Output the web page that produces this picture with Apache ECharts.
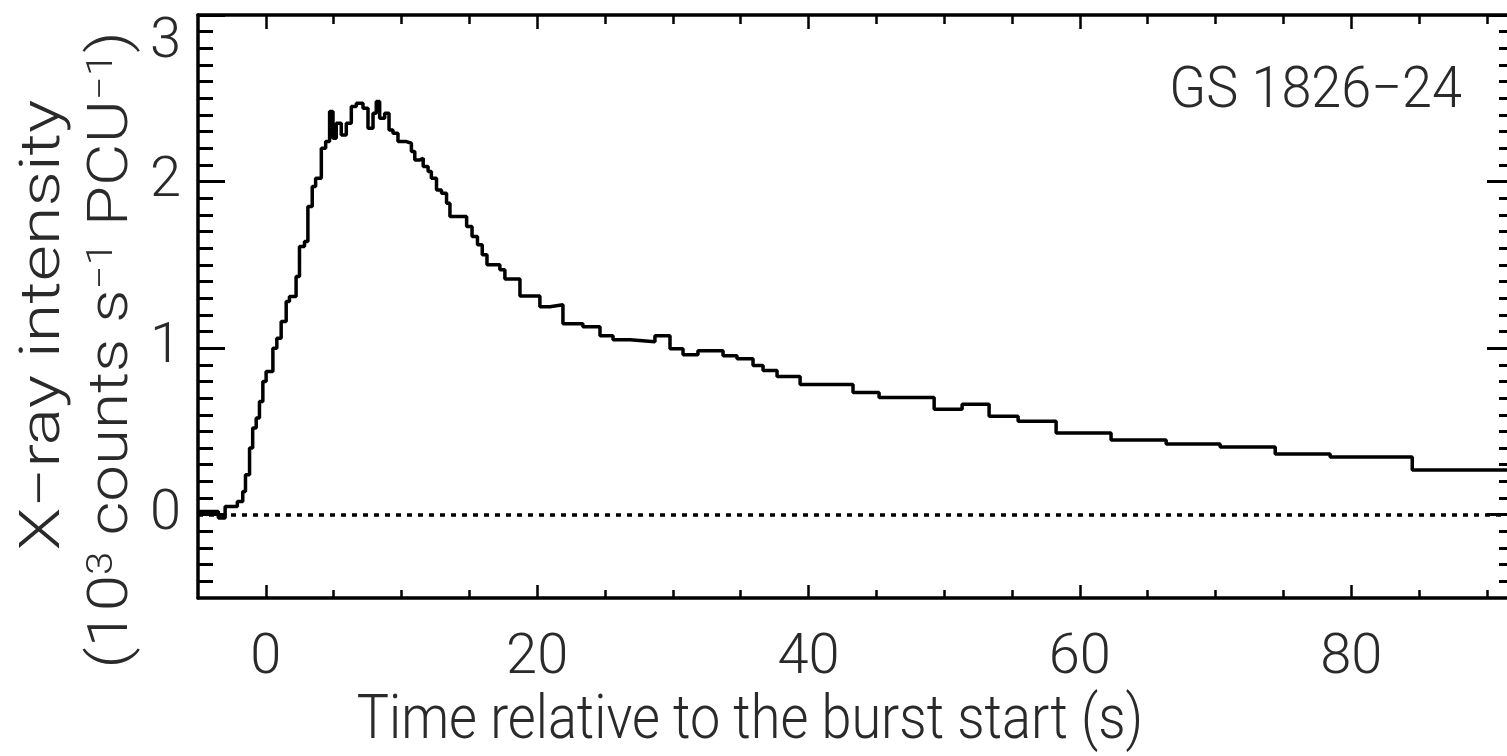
<!DOCTYPE html>
<html><head><meta charset="utf-8">
<script src="https://cdn.jsdelivr.net/npm/echarts@6/dist/echarts.min.js"></script>
<style>html,body{margin:0;padding:0;background:#fff}#c{width:1507px;height:756px}</style>
</head><body><div id="c"></div>
<script>
// Left edge of each time bin (s) and the intensity in that bin (10^3 counts/s/PCU)
const timeEdges = [-5, -3.5, -3.0, -2.1, -1.7, -1.5, -1.2, -0.97, -0.71, -0.47, -0.22, 0.02, 0.52, 0.81, 1.13, 1.5, 1.74, 2.23, 2.48, 2.85,
  3.1, 3.42, 3.67, 4.09, 4.41, 4.7, 4.95, 5.19, 5.56, 5.93, 6.3, 6.67, 7.16, 7.53, 7.9, 8.14, 8.39, 8.76, 9.08, 9.37,
  9.74, 10.36, 10.73, 10.98, 11.35, 11.6, 11.96, 12.2, 12.58, 12.95, 13.32, 13.57, 14.8, 15.2, 15.6, 15.95, 16.3, 17.25, 17.62, 18.73,
  20.2, 20.94, 21.9, 23.37, 24.63, 25.59, 26.84, 28.68, 29.79, 30.75, 31.85, 33.7, 34.73, 35.91, 36.65, 37.68, 39.38, 43.28, 45.2, 49.26,
  51.32, 53.31, 55.45, 58.25, 62.3, 66.36, 70.34, 74.4, 78.45, 84.5];
const intensity = [0.02, -0.02, 0.05, 0.08, 0.14, 0.24, 0.40, 0.52, 0.58, 0.68, 0.80, 0.86, 1.00, 1.06, 1.16, 1.28, 1.31, 1.43, 1.61, 1.64,
  1.85, 1.97, 2.02, 2.20, 2.24, 2.42, 2.26, 2.35, 2.28, 2.35, 2.45, 2.47, 2.44, 2.32, 2.41, 2.48, 2.38, 2.41, 2.31, 2.29,
  2.24, 2.23, 2.18, 2.13, 2.14, 2.09, 2.06, 2.02, 1.95, 1.93, 1.87, 1.79, 1.73, 1.67, 1.62, 1.56, 1.50, 1.47, 1.415, 1.313,
  1.248, 1.26, 1.146, 1.128, 1.075, 1.051, 1.039, 1.075, 0.997, 0.961, 0.985, 0.955, 0.937, 0.896, 0.866, 0.830, 0.782, 0.734, 0.704, 0.633,
  0.663, 0.591, 0.561, 0.490, 0.448, 0.424, 0.406, 0.364, 0.346, 0.269];
const timeEnd = 92;

const xRange = [-5, 92];
const yRange = [-0.5, 3];
const xTickLabels = [0, 20, 40, 60, 80];
const xMinorTicks = [5, 10, 15, 25, 30, 35, 45, 50, 55, 65, 70, 75, 85, 90];
const yTickLabels = [0, 1, 2, 3];
const yMinorTicks = [];
for (let i = -4; i <= 29; i++) { if (i % 10 !== 0) yMinorTicks.push(i / 10); }

const sourceName = 'GS 1826\u221224';
const xTitle = 'Time relative to the burst start (s)';
const yTitle1 = 'X\u2212ray intensity';
const yTitle2 = '(10{sup|3} counts s{sup|\u22121} PCU{sup|\u22121})';

const FONT = 'Roboto, "Liberation Sans", Arial, sans-serif';
const TXT = '#2a2a2a';
const FW = 300;

const seriesData = timeEdges.map((t, i) => [t, intensity[i]]);
seriesData.push([timeEnd, intensity[intensity.length - 1]]);

function xAx(position, ticks, len, mainAxis) {
  return {
    type: 'value', min: xRange[0], max: xRange[1], position: position,
    axisLine: { show: mainAxis, onZero: false, lineStyle: { color: '#000', width: 3.5 } },
    axisTick: { show: true, inside: true, length: len, customValues: ticks, lineStyle: { color: '#000', width: 2.5 } },
    axisLabel: (mainAxis && position === 'bottom') ? { show: true, customValues: xTickLabels, margin: 33, fontSize: 56, fontWeight: FW, fontFamily: FONT, color: TXT } : { show: false },
    splitLine: { show: false }, minorTick: { show: false }
  };
}
function yAx(position, ticks, len, mainAxis) {
  return {
    type: 'value', min: yRange[0], max: yRange[1], position: position,
    axisLine: { show: mainAxis && position === 'left', onZero: false, lineStyle: { color: '#000', width: 3.5 } },
    axisTick: { show: true, inside: true, length: len, customValues: ticks, lineStyle: { color: '#000', width: 3 } },
    axisLabel: (mainAxis && position === 'left') ? {
      show: true, customValues: yTickLabels, margin: 17, fontSize: 56, fontWeight: FW, fontFamily: FONT, color: TXT,
      formatter: v => (v === 3 ? '{low|3}' : String(v)),
      rich: { low: { padding: [56, 0, 0, 0], fontSize: 56, fontWeight: FW, fontFamily: FONT, color: TXT } }
    } : { show: false },
    splitLine: { show: false }, minorTick: { show: false }
  };
}

const chart = echarts.init(document.getElementById('c'), null, { renderer: 'canvas' });
chart.setOption({
  animation: false,
  backgroundColor: '#fff',
  grid: { left: 198, right: -7, top: 15, bottom: 158, containLabel: false, outerBoundsMode: 'none' },
  xAxis: [
    xAx('bottom', xTickLabels, 13, true),
    xAx('top', xTickLabels, 14, true),
    xAx('bottom', xMinorTicks, 8, false),
    xAx('top', xMinorTicks, 9, false)
  ],
  yAxis: [
    yAx('left', yTickLabels, 27, true),
    yAx('right', yTickLabels, 27, true),
    yAx('left', yMinorTicks, 15, false),
    yAx('right', yMinorTicks, 15, false)
  ],
  series: [{
    type: 'line', step: 'end', data: seriesData, xAxisIndex: 0, yAxisIndex: 0,
    showSymbol: false, symbol: 'none',
    lineStyle: { color: '#000', width: 3.5 },
    markLine: {
      silent: true, symbol: ['none', 'none'], label: { show: false },
      lineStyle: { color: '#000', width: 3.5, type: [5, 6] },
      data: [{ yAxis: 0 }]
    }
  }],
  graphic: [
    { type: 'text', x: 1462, y: 93, scaleY: 1.06, style: { text: sourceName, font: FW + ' 54px ' + FONT, fill: TXT, textAlign: 'right', textVerticalAlign: 'middle' } },
    { type: 'text', x: 750, y: 723, scaleY: 1.12, style: { text: xTitle, font: FW + ' 54px ' + FONT, fill: TXT, textAlign: 'center', textVerticalAlign: 'middle' } },
    { type: 'text', x: 45, y: 325, rotation: Math.PI / 2, scaleX: 1.25, style: { text: yTitle1, font: FW + ' 56px ' + FONT, fill: TXT, textAlign: 'center', textVerticalAlign: 'middle' } },
    { type: 'text', x: 113, y: 350, rotation: Math.PI / 2, scaleX: 1.17, style: { text: yTitle2, font: FW + ' 56px ' + FONT, fill: TXT, textAlign: 'center', textVerticalAlign: 'middle',
      rich: { sup: { fontSize: 36, fontWeight: FW, fontFamily: FONT, fill: TXT, verticalAlign: 'top' } } } }
  ]
});
</script></body></html>
